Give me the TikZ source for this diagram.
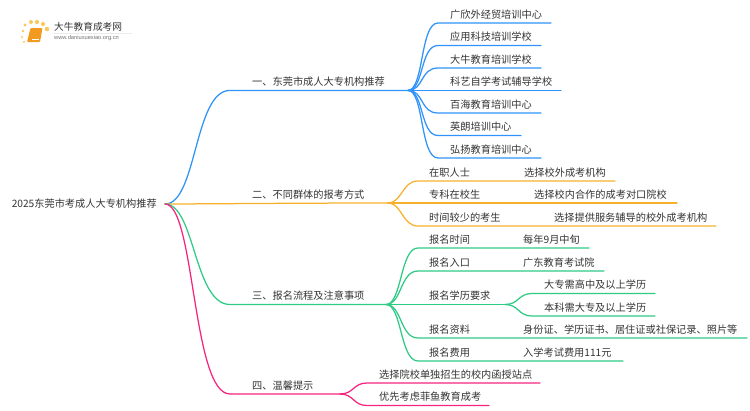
\documentclass[tikz,border=0pt]{standalone}
\usepackage{fontspec}
\setmainfont{Noto Sans CJK SC}
\newfontfamily\urlfont{Liberation Sans}
\definecolor{textgray}{HTML}{333333}
\definecolor{blueline}{HTML}{2E93FA}
\definecolor{orangeline}{HTML}{F6B02C}
\definecolor{greenline}{HTML}{2ECB85}
\definecolor{pinkline}{HTML}{F5257F}
\definecolor{bookorange}{HTML}{F29A1F}
\definecolor{dotyellow}{HTML}{F9C95F}
\tikzset{lbl/.style={anchor=west, inner sep=0pt, text=textgray, font=\fontsize{10.2pt}{12pt}\selectfont}}
\tikzset{conn/.style={line width=1.25pt, line cap=round, line join=round}}
\tikzset{logodot/.style={fill=dotyellow, draw=none}}
\begin{document}
\begin{tikzpicture}[x=1pt, y=-1pt]
    \useasboundingbox (0, 0) rectangle (750, 410);
    % logo
    \foreach \px/\py/\pr in {25/25/1.7, 31/22/2, 37/22/2.1, 43/24/2.1, 47/29/2.3, 23/31/1.4, 22/37/1.2, 24/42/1.1} {
        \fill[logodot] (\px, \py) circle [radius=\pr];
    }
    \fill[bookorange, rounded corners=1pt] (30.5, 28) -- (42.5, 28) -- (40, 42) -- (27, 42) -- cycle;
    \draw[white, line width=0.5pt] (32, 39.5) -- (39, 39.5);
    \draw[black!8, line width=0.6pt] (54, 33) -- (132, 33);
    \node[lbl, font=\fontsize{9.7pt}{11pt}\selectfont] (logotitle) at (54, 27) {大牛教育成考网};
    \node[lbl, text=black!55, font=\urlfont\fontsize{5.7pt}{7pt}\selectfont] (logourl) at (54, 38.5) {www.daniuxuexiao.org.cn};
    % root and forks
    \node[lbl, anchor=east, inner xsep=8pt] (root) at (165, 204) {2025东莞市考成人大专机构推荐};
    \coordinate (fork1) at (408, 90.4);
    \coordinate (fork2) at (388, 203);
    \coordinate (fork3) at (386, 304.5);
    \coordinate (fork4) at (340, 394);
    \coordinate (fork5) at (505, 304.5);
    \coordinate (turn1) at (230, 90.4);
    \coordinate (turn3) at (230, 304.5);
    \coordinate (turn4) at (230, 394);
    \draw[conn, blueline] (root.east) .. controls +(32, 0) and +(-36, 0) .. (turn1) -- (fork1);
    \draw[conn, orangeline] (root.east) .. controls +(30, 0) and +(-90, 0) .. (fork2);
    \draw[conn, greenline] (root.east) .. controls +(30, 0) and +(-36, 0) .. (turn3) -- (fork3);
    \draw[conn, pinkline] (root.east) .. controls +(30, 0) and +(-38, 0) .. (turn4) -- (fork4);
    \node[lbl] (branch1) at (252, 82) {一、东莞市成人大专机构推荐};
    \node[lbl] (branch2) at (252, 195) {二、不同群体的报考方式};
    \node[lbl] (branch3) at (252, 296) {三、报名流程及注意事项};
    \node[lbl] (branch4) at (252, 386) {四、温馨提示};
    % first branch
    \foreach \i/\ly/\xend/\txt in {1/23/551/广欣外经贸培训中心, 2/45.5/541/应用科技培训学校, 3/68/541/大牛教育培训学校, 4/90.4/561/科艺自学考试辅导学校, 5/113/541/百海教育培训中心, 6/135.5/521/英朗培训中心, 7/158/541/弘扬教育培训中心} {
        \coordinate (enda\i) at (\xend, \ly);
        \draw[conn, blueline] (fork1) .. controls +(16, 0) and +(-18, 0) .. (438, \ly) -- (enda\i);
        \node[lbl] (leafa\i) at (450, \ly - 8.7) {\txt};
    }
    % second branch
    \foreach \i/\ly/\xend/\txt/\xsub/\sub in {1/181/615/在职人士/524/选择校外成考机构, 2/203/677/专科在校生/534/选择校内合作的成考对口院校, 3/226/716/时间较少的考生/554/选择提供服务辅导的校外成考机构} {
        \coordinate (endb\i) at (\xend, \ly);
        \draw[conn, orangeline] (fork2) .. controls +(14, 0) and +(-16, 0) .. (418, \ly) -- (endb\i);
        \node[lbl] (leafb\i) at (429, \ly - 8.7) {\txt};
        \node[lbl] (subb\i) at (\xsub, \ly - 8.7) {\sub};
    }
    % third branch
    \foreach \i/\ly/\xend/\txt/\sub in {1/248/589/报名时间/每年9月中旬, 2/271/604/报名入口/广东教育考试院, 4/338/747/报名资料/身份证、学历证书、居住证或社保记录、照片等, 5/361/623/报名费用/入学考试费用111元} {
        \coordinate (endc\i) at (\xend, \ly);
        \draw[conn, greenline] (fork3) .. controls +(16, 0) and +(-18, 0) .. (418, \ly) -- (endc\i);
        \node[lbl] (leafc\i) at (429, \ly - 8.7) {\txt};
        \node[lbl] (subc\i) at (523, \ly - 8.7) {\sub};
    }
    \draw[conn, greenline] (fork3) -- (fork5);
    \node[lbl] (leafc3) at (429, 296) {报名学历要求};
    \foreach \i/\ly/\txt in {1/293.5/大专需高中及以上学历, 2/316/本科需大专及以上学历} {
        \coordinate (endd\i) at (655, \ly);
        \draw[conn, greenline] (fork5) .. controls +(14, 0) and +(-14, 0) .. (532, \ly) -- (endd\i);
        \node[lbl] (leafd\i) at (544, \ly - 8.7) {\txt};
    }
    % fourth branch
    \foreach \i/\ly/\xend/\txt in {1/383/540/选择院校单独招生的校内函授站点, 2/405.5/489/优先考虑菲鱼教育成考} {
        \coordinate (ende\i) at (\xend, \ly);
        \draw[conn, pinkline] (fork4) .. controls +(14, 0) and +(-14, 0) .. (367, \ly) -- (ende\i);
        \node[lbl] (leafe\i) at (379, \ly - 8.7) {\txt};
    }
\end{tikzpicture}
\end{document}
